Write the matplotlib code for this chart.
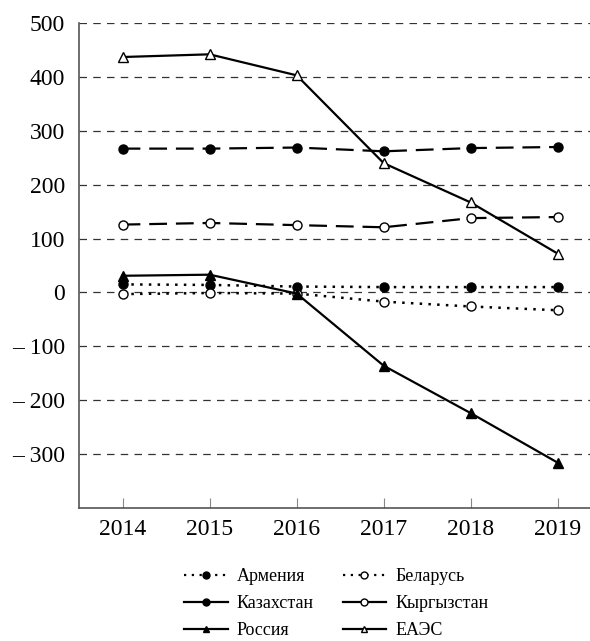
import matplotlib.pyplot as plt
from matplotlib.lines import Line2D

plt.rcParams['font.family'] = ['Liberation Serif', 'DejaVu Serif']

years = [2014, 2015, 2016, 2017, 2018, 2019]

armenia = [15, 14, 11, 10, 10, 10]
belarus = [-3, -1, -2, -17, -26, -33]
kazakhstan = [267, 267, 269, 262, 268, 270]
kyrgyzstan = [126, 129, 125, 121, 138, 140]
russia = [31, 33, -2, -136, -224, -316]
eaeu = [437, 442, 403, 240, 167, 72]

y_ticks = [500, 400, 300, 200, 100, 0, -100, -200, -300]
y_tick_labels = ['500', '400', '300', '200', '100', '0', '– 100', '– 200', '– 300']

fig = plt.figure(figsize=(5.9, 6.41), dpi=100)
ax = fig.add_axes([0.134, 0.2075, 0.866, 0.7565])

dotted = (0, (1, 2.5))
longdash = (0, (8, 4))

ax.plot(years, armenia, linestyle=dotted, color='black', lw=1.8,
        marker='o', ms=6.5, mfc='black', mec='black')
ax.plot(years, belarus, linestyle=dotted, color='black', lw=1.8,
        marker='o', ms=6.5, mfc='white', mec='black')
ax.plot(years, kazakhstan, linestyle=longdash, color='black', lw=1.6,
        marker='o', ms=6.5, mfc='black', mec='black')
ax.plot(years, kyrgyzstan, linestyle=longdash, color='black', lw=1.6,
        marker='o', ms=6.5, mfc='white', mec='black')
ax.plot(years, russia, linestyle='-', color='black', lw=1.6,
        marker='^', ms=7.5, mfc='black', mec='black')
ax.plot(years, eaeu, linestyle='-', color='black', lw=1.6,
        marker='^', ms=7.5, mfc='white', mec='black')

ax.set_xlim(2013.5, 2019.37)
ax.set_ylim(-400, 500)
ax.set_xticks(years)
ax.set_xticklabels([str(y) for y in years])
ax.set_yticks(y_ticks)
ax.set_yticklabels(y_tick_labels)

ax.yaxis.grid(True, linestyle=(0, (6, 5)), color='#333333', lw=0.9)
ax.set_axisbelow(True)

for s in ['top', 'right']:
    ax.spines[s].set_visible(False)
for s in ['left', 'bottom']:
    ax.spines[s].set_color('#555555')
    ax.spines[s].set_linewidth(1.2)

ax.tick_params(axis='x', direction='in', length=7, color='#888888',
               labelsize=17, pad=8)
ax.tick_params(axis='y', length=0, labelsize=17, pad=10)

# legend handles (row order: Армения, Беларусь / Казахстан, Кыргызстан / Россия, ЕАЭС)
def h(ls, m, fc):
    return Line2D([], [], color='black', lw=1.6, linestyle=ls, marker=m,
                  ms=5, mfc=fc, mec='black')

handles = [h(dotted, 'o', 'black'), h('-', 'o', 'black'), h('-', '^', 'black'),
           h(dotted, 'o', 'white'), h('-', 'o', 'white'), h('-', '^', 'white')]
labels = ['Армения', 'Казахстан', 'Россия', 'Беларусь', 'Кыргызстан', 'ЕАЭС']

fig.legend(handles, labels, loc='center', bbox_to_anchor=(0.57, 0.058), ncol=2,
           frameon=False, fontsize=13, handlelength=2.4,
           columnspacing=1.6, labelspacing=0.55, handletextpad=0.5)

fig.savefig('out.png', dpi=100)
